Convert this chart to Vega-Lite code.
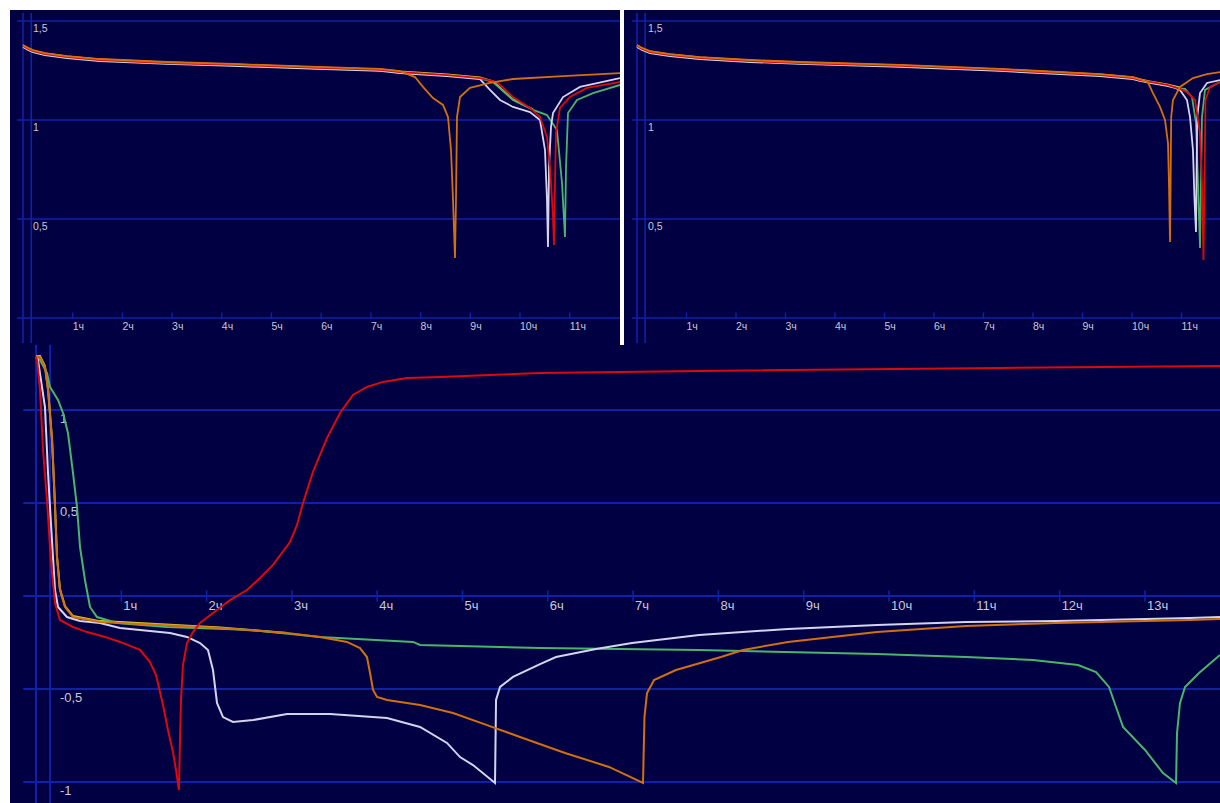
{
  "$schema": "https://vega.github.io/schema/vega-lite/v6.json",
  "background": "#ffffff",
  "padding": {"left": 10, "top": 10, "right": 0, "bottom": 0},
  "config": {
    "view": {"stroke": null, "fill": "#000042"},
    "text": {"font": "Liberation Sans", "color": "#c8c8dc"}
  },
  "datasets": {
    "hours": [
      {"t": 1, "label": "1ч"}, {"t": 2, "label": "2ч"}, {"t": 3, "label": "3ч"}, {"t": 4, "label": "4ч"},
      {"t": 5, "label": "5ч"}, {"t": 6, "label": "6ч"}, {"t": 7, "label": "7ч"}, {"t": 8, "label": "8ч"},
      {"t": 9, "label": "9ч"}, {"t": 10, "label": "10ч"}, {"t": 11, "label": "11ч"}, {"t": 12, "label": "12ч"},
      {"t": 13, "label": "13ч"}
    ],
    "top_levels": [
      {"v": 0, "label": ""}, {"v": 0.5, "label": "0,5"}, {"v": 1, "label": "1"}, {"v": 1.5, "label": "1,5"}
    ],
    "bottom_levels": [
      {"v": 1, "label": "1"}, {"v": 0.5, "label": "0,5"}, {"v": 0, "label": ""}, {"v": -0.5, "label": "-0,5"}, {"v": -1, "label": "-1"}
    ],
    "marks_t": [{"t": 0}, {"t": 0.165}],
    "tl": [
      {"s": "y", "t": 0, "v": 1.377}, {"s": "y", "t": 0.101, "v": 1.362}, {"s": "y", "t": 0.201, "v": 1.351}, {"s": "y", "t": 0.443, "v": 1.336},
      {"s": "y", "t": 0.885, "v": 1.321}, {"s": "y", "t": 1.549, "v": 1.306}, {"s": "y", "t": 2.897, "v": 1.291}, {"s": "y", "t": 4.225, "v": 1.281},
      {"s": "y", "t": 5.915, "v": 1.266}, {"s": "y", "t": 7.183, "v": 1.256}, {"s": "y", "t": 7.586, "v": 1.245}, {"s": "y", "t": 8.531, "v": 1.230},
      {"s": "y", "t": 9.195, "v": 1.215}, {"s": "y", "t": 9.457, "v": 1.195}, {"s": "y", "t": 9.859, "v": 1.104}, {"s": "y", "t": 10.262, "v": 1.054},

      {"s": "g", "t": 0, "v": 1.372}, {"s": "g", "t": 0.101, "v": 1.357}, {"s": "g", "t": 0.201, "v": 1.346}, {"s": "g", "t": 0.443, "v": 1.331},
      {"s": "g", "t": 0.885, "v": 1.316}, {"s": "g", "t": 1.549, "v": 1.301}, {"s": "g", "t": 2.897, "v": 1.286}, {"s": "g", "t": 4.225, "v": 1.276},
      {"s": "g", "t": 5.915, "v": 1.261}, {"s": "g", "t": 7.183, "v": 1.251}, {"s": "g", "t": 7.586, "v": 1.240}, {"s": "g", "t": 8.531, "v": 1.225},
      {"s": "g", "t": 9.195, "v": 1.210}, {"s": "g", "t": 9.457, "v": 1.192}, {"s": "g", "t": 9.859, "v": 1.101}, {"s": "g", "t": 10.262, "v": 1.051},
      {"s": "g", "t": 10.543, "v": 1.025}, {"s": "g", "t": 10.744, "v": 0.949}, {"s": "g", "t": 10.845, "v": 0.682}, {"s": "g", "t": 10.905, "v": 0.409},
      {"s": "g", "t": 10.926, "v": 0.763}, {"s": "g", "t": 10.966, "v": 1.035}, {"s": "g", "t": 11.147, "v": 1.101}, {"s": "g", "t": 11.469, "v": 1.136},
      {"s": "g", "t": 12.012, "v": 1.177},

      {"s": "w", "t": 0, "v": 1.369}, {"s": "w", "t": 0.101, "v": 1.354}, {"s": "w", "t": 0.201, "v": 1.343}, {"s": "w", "t": 0.443, "v": 1.328},
      {"s": "w", "t": 0.885, "v": 1.313}, {"s": "w", "t": 1.549, "v": 1.298}, {"s": "w", "t": 2.897, "v": 1.283}, {"s": "w", "t": 4.225, "v": 1.273},
      {"s": "w", "t": 5.915, "v": 1.258}, {"s": "w", "t": 7.183, "v": 1.248}, {"s": "w", "t": 7.586, "v": 1.237}, {"s": "w", "t": 8.531, "v": 1.222},
      {"s": "w", "t": 9.195, "v": 1.207}, {"s": "w", "t": 9.396, "v": 1.152}, {"s": "w", "t": 9.598, "v": 1.101}, {"s": "w", "t": 9.859, "v": 1.066},
      {"s": "w", "t": 10.201, "v": 1.040}, {"s": "w", "t": 10.402, "v": 1.000}, {"s": "w", "t": 10.503, "v": 0.848}, {"s": "w", "t": 10.543, "v": 0.596},
      {"s": "w", "t": 10.563, "v": 0.359}, {"s": "w", "t": 10.584, "v": 0.763}, {"s": "w", "t": 10.624, "v": 0.965}, {"s": "w", "t": 10.664, "v": 1.035},
      {"s": "w", "t": 10.865, "v": 1.116}, {"s": "w", "t": 11.207, "v": 1.167}, {"s": "w", "t": 12.012, "v": 1.212},

      {"s": "r", "t": 0, "v": 1.374}, {"s": "r", "t": 0.101, "v": 1.359}, {"s": "r", "t": 0.201, "v": 1.348}, {"s": "r", "t": 0.443, "v": 1.333},
      {"s": "r", "t": 0.885, "v": 1.318}, {"s": "r", "t": 1.549, "v": 1.303}, {"s": "r", "t": 2.897, "v": 1.288}, {"s": "r", "t": 4.225, "v": 1.278},
      {"s": "r", "t": 5.915, "v": 1.263}, {"s": "r", "t": 7.183, "v": 1.253}, {"s": "r", "t": 7.586, "v": 1.242}, {"s": "r", "t": 8.531, "v": 1.227},
      {"s": "r", "t": 9.195, "v": 1.212}, {"s": "r", "t": 9.537, "v": 1.192}, {"s": "r", "t": 9.859, "v": 1.116}, {"s": "r", "t": 10.201, "v": 1.061},
      {"s": "r", "t": 10.402, "v": 1.015}, {"s": "r", "t": 10.543, "v": 0.914}, {"s": "r", "t": 10.604, "v": 0.763}, {"s": "r", "t": 10.664, "v": 0.510},
      {"s": "r", "t": 10.684, "v": 0.369}, {"s": "r", "t": 10.704, "v": 0.682}, {"s": "r", "t": 10.724, "v": 0.934}, {"s": "r", "t": 10.805, "v": 1.061},
      {"s": "r", "t": 11.006, "v": 1.116}, {"s": "r", "t": 11.348, "v": 1.162}, {"s": "r", "t": 12.012, "v": 1.192},

      {"s": "o", "t": 0, "v": 1.379}, {"s": "o", "t": 0.101, "v": 1.364}, {"s": "o", "t": 0.201, "v": 1.353}, {"s": "o", "t": 0.443, "v": 1.338},
      {"s": "o", "t": 0.885, "v": 1.323}, {"s": "o", "t": 1.549, "v": 1.308}, {"s": "o", "t": 2.897, "v": 1.293}, {"s": "o", "t": 4.225, "v": 1.283},
      {"s": "o", "t": 5.915, "v": 1.268}, {"s": "o", "t": 7.183, "v": 1.258}, {"s": "o", "t": 7.586, "v": 1.247}, {"s": "o", "t": 7.887, "v": 1.217},
      {"s": "o", "t": 8.048, "v": 1.167}, {"s": "o", "t": 8.249, "v": 1.111}, {"s": "o", "t": 8.451, "v": 1.076}, {"s": "o", "t": 8.551, "v": 1.015},
      {"s": "o", "t": 8.612, "v": 0.848}, {"s": "o", "t": 8.652, "v": 0.596}, {"s": "o", "t": 8.692, "v": 0.303}, {"s": "o", "t": 8.712, "v": 0.596},
      {"s": "o", "t": 8.732, "v": 1.015}, {"s": "o", "t": 8.793, "v": 1.116}, {"s": "o", "t": 8.994, "v": 1.162}, {"s": "o", "t": 9.396, "v": 1.187},
      {"s": "o", "t": 9.859, "v": 1.207}, {"s": "o", "t": 10.865, "v": 1.222}, {"s": "o", "t": 12.012, "v": 1.237}
    ],
    "tr": [
      {"s": "y", "t": 0, "v": 1.377}, {"s": "y", "t": 0.101, "v": 1.362}, {"s": "y", "t": 0.263, "v": 1.346}, {"s": "y", "t": 0.667, "v": 1.331},
      {"s": "y", "t": 1.273, "v": 1.316}, {"s": "y", "t": 2.283, "v": 1.301}, {"s": "y", "t": 3.293, "v": 1.291}, {"s": "y", "t": 5.313, "v": 1.276},
      {"s": "y", "t": 7.333, "v": 1.256}, {"s": "y", "t": 9.354, "v": 1.230}, {"s": "y", "t": 10.020, "v": 1.215}, {"s": "y", "t": 10.162, "v": 1.205},
      {"s": "y", "t": 10.364, "v": 1.195}, {"s": "y", "t": 10.707, "v": 1.180}, {"s": "y", "t": 10.970, "v": 1.165},

      {"s": "g", "t": 0, "v": 1.372}, {"s": "g", "t": 0.101, "v": 1.357}, {"s": "g", "t": 0.263, "v": 1.341}, {"s": "g", "t": 0.667, "v": 1.326},
      {"s": "g", "t": 1.273, "v": 1.311}, {"s": "g", "t": 2.283, "v": 1.296}, {"s": "g", "t": 3.293, "v": 1.286}, {"s": "g", "t": 5.313, "v": 1.271},
      {"s": "g", "t": 7.333, "v": 1.251}, {"s": "g", "t": 9.354, "v": 1.225}, {"s": "g", "t": 10.020, "v": 1.210}, {"s": "g", "t": 10.162, "v": 1.200},
      {"s": "g", "t": 10.364, "v": 1.190}, {"s": "g", "t": 10.707, "v": 1.175}, {"s": "g", "t": 10.970, "v": 1.160}, {"s": "g", "t": 11.071, "v": 1.157},
      {"s": "g", "t": 11.212, "v": 1.116}, {"s": "g", "t": 11.293, "v": 0.985}, {"s": "g", "t": 11.333, "v": 0.682}, {"s": "g", "t": 11.374, "v": 0.354},
      {"s": "g", "t": 11.394, "v": 0.682}, {"s": "g", "t": 11.414, "v": 1.015}, {"s": "g", "t": 11.475, "v": 1.152}, {"s": "g", "t": 11.778, "v": 1.192},

      {"s": "w", "t": 0, "v": 1.369}, {"s": "w", "t": 0.101, "v": 1.354}, {"s": "w", "t": 0.263, "v": 1.338}, {"s": "w", "t": 0.667, "v": 1.323},
      {"s": "w", "t": 1.273, "v": 1.308}, {"s": "w", "t": 2.283, "v": 1.293}, {"s": "w", "t": 3.293, "v": 1.283}, {"s": "w", "t": 5.313, "v": 1.268},
      {"s": "w", "t": 7.333, "v": 1.248}, {"s": "w", "t": 9.354, "v": 1.222}, {"s": "w", "t": 10.020, "v": 1.207}, {"s": "w", "t": 10.162, "v": 1.197},
      {"s": "w", "t": 10.364, "v": 1.187}, {"s": "w", "t": 10.707, "v": 1.172}, {"s": "w", "t": 10.869, "v": 1.162}, {"s": "w", "t": 10.970, "v": 1.152},
      {"s": "w", "t": 11.111, "v": 1.101}, {"s": "w", "t": 11.172, "v": 1.015}, {"s": "w", "t": 11.232, "v": 0.848}, {"s": "w", "t": 11.263, "v": 0.596},
      {"s": "w", "t": 11.293, "v": 0.434}, {"s": "w", "t": 11.303, "v": 0.682}, {"s": "w", "t": 11.317, "v": 1.015}, {"s": "w", "t": 11.374, "v": 1.136},
      {"s": "w", "t": 11.515, "v": 1.187}, {"s": "w", "t": 11.778, "v": 1.202},

      {"s": "r", "t": 0, "v": 1.374}, {"s": "r", "t": 0.101, "v": 1.359}, {"s": "r", "t": 0.263, "v": 1.343}, {"s": "r", "t": 0.667, "v": 1.328},
      {"s": "r", "t": 1.273, "v": 1.313}, {"s": "r", "t": 2.283, "v": 1.298}, {"s": "r", "t": 3.293, "v": 1.288}, {"s": "r", "t": 5.313, "v": 1.273},
      {"s": "r", "t": 7.333, "v": 1.253}, {"s": "r", "t": 9.354, "v": 1.227}, {"s": "r", "t": 10.020, "v": 1.212}, {"s": "r", "t": 10.162, "v": 1.202},
      {"s": "r", "t": 10.364, "v": 1.192}, {"s": "r", "t": 10.707, "v": 1.177}, {"s": "r", "t": 10.970, "v": 1.157}, {"s": "r", "t": 11.111, "v": 1.141},
      {"s": "r", "t": 11.273, "v": 1.101}, {"s": "r", "t": 11.374, "v": 0.934}, {"s": "r", "t": 11.414, "v": 0.682}, {"s": "r", "t": 11.444, "v": 0.293},
      {"s": "r", "t": 11.465, "v": 0.682}, {"s": "r", "t": 11.485, "v": 1.101}, {"s": "r", "t": 11.576, "v": 1.167}, {"s": "r", "t": 11.778, "v": 1.192},

      {"s": "o", "t": 0, "v": 1.379}, {"s": "o", "t": 0.101, "v": 1.364}, {"s": "o", "t": 0.263, "v": 1.348}, {"s": "o", "t": 0.667, "v": 1.333},
      {"s": "o", "t": 1.273, "v": 1.318}, {"s": "o", "t": 2.283, "v": 1.303}, {"s": "o", "t": 3.293, "v": 1.293}, {"s": "o", "t": 5.313, "v": 1.278},
      {"s": "o", "t": 7.333, "v": 1.258}, {"s": "o", "t": 9.354, "v": 1.232}, {"s": "o", "t": 10.020, "v": 1.217}, {"s": "o", "t": 10.162, "v": 1.207},
      {"s": "o", "t": 10.323, "v": 1.190}, {"s": "o", "t": 10.424, "v": 1.136}, {"s": "o", "t": 10.566, "v": 1.066}, {"s": "o", "t": 10.667, "v": 1.000},
      {"s": "o", "t": 10.727, "v": 0.884}, {"s": "o", "t": 10.747, "v": 0.682}, {"s": "o", "t": 10.768, "v": 0.384}, {"s": "o", "t": 10.780, "v": 0.682},
      {"s": "o", "t": 10.792, "v": 1.015}, {"s": "o", "t": 10.828, "v": 1.101}, {"s": "o", "t": 10.970, "v": 1.167}, {"s": "o", "t": 11.232, "v": 1.212},
      {"s": "o", "t": 11.515, "v": 1.232}, {"s": "o", "t": 11.778, "v": 1.242}
    ],
    "bt": [
      {"s": "y", "t": 0, "v": 1.29}, {"s": "y", "t": 0.047, "v": 1.29}, {"s": "y", "t": 0.105, "v": 1.236}, {"s": "y", "t": 0.141, "v": 1.113},
      {"s": "y", "t": 0.188, "v": 0.844}, {"s": "y", "t": 0.223, "v": 0.483}, {"s": "y", "t": 0.246, "v": 0.215}, {"s": "y", "t": 0.281, "v": 0.037},
      {"s": "y", "t": 0.34, "v": -0.054}, {"s": "y", "t": 0.434, "v": -0.108}, {"s": "y", "t": 0.75, "v": -0.135}, {"s": "y", "t": 0.985, "v": -0.14},
      {"s": "y", "t": 2.157, "v": -0.169}, {"s": "y", "t": 2.943, "v": -0.199},

      {"s": "g", "t": 0, "v": 1.285}, {"s": "g", "t": 0.047, "v": 1.269}, {"s": "g", "t": 0.129, "v": 1.199}, {"s": "g", "t": 0.164, "v": 1.124},
      {"s": "g", "t": 0.258, "v": 1.054}, {"s": "g", "t": 0.317, "v": 0.984}, {"s": "g", "t": 0.375, "v": 0.876}, {"s": "g", "t": 0.434, "v": 0.661},
      {"s": "g", "t": 0.481, "v": 0.478}, {"s": "g", "t": 0.516, "v": 0.263}, {"s": "g", "t": 0.574, "v": 0.086}, {"s": "g", "t": 0.633, "v": -0.059},
      {"s": "g", "t": 0.715, "v": -0.113}, {"s": "g", "t": 0.95, "v": -0.145}, {"s": "g", "t": 1.536, "v": -0.167}, {"s": "g", "t": 2.544, "v": -0.183},
      {"s": "g", "t": 3.329, "v": -0.22}, {"s": "g", "t": 4.42, "v": -0.247}, {"s": "g", "t": 4.502, "v": -0.263}, {"s": "g", "t": 5.909, "v": -0.28},
      {"s": "g", "t": 7.773, "v": -0.29}, {"s": "g", "t": 9.859, "v": -0.312}, {"s": "g", "t": 10.903, "v": -0.328}, {"s": "g", "t": 11.688, "v": -0.344},
      {"s": "g", "t": 12.216, "v": -0.371}, {"s": "g", "t": 12.427, "v": -0.409}, {"s": "g", "t": 12.579, "v": -0.489}, {"s": "g", "t": 12.661, "v": -0.597},
      {"s": "g", "t": 12.743, "v": -0.704}, {"s": "g", "t": 13.001, "v": -0.828}, {"s": "g", "t": 13.212, "v": -0.952}, {"s": "g", "t": 13.365, "v": -1.005},
      {"s": "g", "t": 13.376, "v": -0.737}, {"s": "g", "t": 13.411, "v": -0.575}, {"s": "g", "t": 13.47, "v": -0.489}, {"s": "g", "t": 13.634, "v": -0.414},
      {"s": "g", "t": 13.88, "v": -0.317},

      {"s": "w", "t": 0, "v": 1.285}, {"s": "w", "t": 0.023, "v": 1.269}, {"s": "w", "t": 0.105, "v": 1.016}, {"s": "w", "t": 0.141, "v": 0.661},
      {"s": "w", "t": 0.164, "v": 0.478}, {"s": "w", "t": 0.199, "v": 0.21}, {"s": "w", "t": 0.223, "v": 0.032}, {"s": "w", "t": 0.258, "v": -0.059},
      {"s": "w", "t": 0.363, "v": -0.113}, {"s": "w", "t": 0.516, "v": -0.134}, {"s": "w", "t": 0.75, "v": -0.145}, {"s": "w", "t": 0.985, "v": -0.172},
      {"s": "w", "t": 1.571, "v": -0.199}, {"s": "w", "t": 1.77, "v": -0.22}, {"s": "w", "t": 1.923, "v": -0.253}, {"s": "w", "t": 2.016, "v": -0.29},
      {"s": "w", "t": 2.075, "v": -0.398}, {"s": "w", "t": 2.122, "v": -0.575}, {"s": "w", "t": 2.192, "v": -0.651}, {"s": "w", "t": 2.309, "v": -0.677},
      {"s": "w", "t": 2.544, "v": -0.667}, {"s": "w", "t": 2.943, "v": -0.634}, {"s": "w", "t": 3.447, "v": -0.634}, {"s": "w", "t": 4.115, "v": -0.656},
      {"s": "w", "t": 4.502, "v": -0.704}, {"s": "w", "t": 4.818, "v": -0.79}, {"s": "w", "t": 4.971, "v": -0.866}, {"s": "w", "t": 5.123, "v": -0.909},
      {"s": "w", "t": 5.381, "v": -1.005}, {"s": "w", "t": 5.393, "v": -0.559}, {"s": "w", "t": 5.44, "v": -0.489}, {"s": "w", "t": 5.592, "v": -0.435},
      {"s": "w", "t": 5.909, "v": -0.366}, {"s": "w", "t": 6.096, "v": -0.328}, {"s": "w", "t": 6.565, "v": -0.285}, {"s": "w", "t": 6.987, "v": -0.253},
      {"s": "w", "t": 7.773, "v": -0.21}, {"s": "w", "t": 8.816, "v": -0.177}, {"s": "w", "t": 9.859, "v": -0.156}, {"s": "w", "t": 10.903, "v": -0.14},
      {"s": "w", "t": 11.958, "v": -0.134}, {"s": "w", "t": 13.529, "v": -0.118}, {"s": "w", "t": 13.88, "v": -0.113},

      {"s": "o", "t": 0, "v": 1.29}, {"s": "o", "t": 0.047, "v": 1.285}, {"s": "o", "t": 0.105, "v": 1.231}, {"s": "o", "t": 0.141, "v": 1.108},
      {"s": "o", "t": 0.188, "v": 0.839}, {"s": "o", "t": 0.223, "v": 0.478}, {"s": "o", "t": 0.246, "v": 0.21}, {"s": "o", "t": 0.281, "v": 0.032},
      {"s": "o", "t": 0.34, "v": -0.059}, {"s": "o", "t": 0.434, "v": -0.113}, {"s": "o", "t": 0.75, "v": -0.14}, {"s": "o", "t": 0.985, "v": -0.145},
      {"s": "o", "t": 2.157, "v": -0.172}, {"s": "o", "t": 2.943, "v": -0.199}, {"s": "o", "t": 3.329, "v": -0.22}, {"s": "o", "t": 3.646, "v": -0.247},
      {"s": "o", "t": 3.798, "v": -0.28}, {"s": "o", "t": 3.88, "v": -0.328}, {"s": "o", "t": 3.916, "v": -0.414}, {"s": "o", "t": 3.951, "v": -0.505},
      {"s": "o", "t": 3.998, "v": -0.543}, {"s": "o", "t": 4.115, "v": -0.559}, {"s": "o", "t": 4.502, "v": -0.586}, {"s": "o", "t": 4.889, "v": -0.629},
      {"s": "o", "t": 5.287, "v": -0.694}, {"s": "o", "t": 5.674, "v": -0.758}, {"s": "o", "t": 6.202, "v": -0.844}, {"s": "o", "t": 6.717, "v": -0.919},
      {"s": "o", "t": 7.116, "v": -1.005}, {"s": "o", "t": 7.133, "v": -0.651}, {"s": "o", "t": 7.163, "v": -0.522}, {"s": "o", "t": 7.245, "v": -0.452},
      {"s": "o", "t": 7.503, "v": -0.398}, {"s": "o", "t": 8.03, "v": -0.328}, {"s": "o", "t": 8.288, "v": -0.29}, {"s": "o", "t": 8.816, "v": -0.247},
      {"s": "o", "t": 9.859, "v": -0.194}, {"s": "o", "t": 10.903, "v": -0.161}, {"s": "o", "t": 11.958, "v": -0.145}, {"s": "o", "t": 13.529, "v": -0.129},
      {"s": "o", "t": 13.88, "v": -0.124},

      {"s": "r", "t": 0, "v": 1.285}, {"s": "r", "t": 0.012, "v": 1.269}, {"s": "r", "t": 0.047, "v": 1.108}, {"s": "r", "t": 0.082, "v": 0.785},
      {"s": "r", "t": 0.129, "v": 0.516}, {"s": "r", "t": 0.164, "v": 0.263}, {"s": "r", "t": 0.188, "v": 0.124}, {"s": "r", "t": 0.223, "v": -0.038},
      {"s": "r", "t": 0.281, "v": -0.129}, {"s": "r", "t": 0.434, "v": -0.167}, {"s": "r", "t": 0.598, "v": -0.194}, {"s": "r", "t": 0.809, "v": -0.22},
      {"s": "r", "t": 0.985, "v": -0.247}, {"s": "r", "t": 1.219, "v": -0.29}, {"s": "r", "t": 1.336, "v": -0.355}, {"s": "r", "t": 1.407, "v": -0.425},
      {"s": "r", "t": 1.489, "v": -0.586}, {"s": "r", "t": 1.547, "v": -0.72}, {"s": "r", "t": 1.606, "v": -0.839}, {"s": "r", "t": 1.641, "v": -0.935},
      {"s": "r", "t": 1.676, "v": -1.043}, {"s": "r", "t": 1.688, "v": -0.774}, {"s": "r", "t": 1.7, "v": -0.559}, {"s": "r", "t": 1.723, "v": -0.371},
      {"s": "r", "t": 1.77, "v": -0.253}, {"s": "r", "t": 1.841, "v": -0.194}, {"s": "r", "t": 1.923, "v": -0.145}, {"s": "r", "t": 2.122, "v": -0.075},
      {"s": "r", "t": 2.274, "v": -0.022}, {"s": "r", "t": 2.474, "v": 0.032}, {"s": "r", "t": 2.626, "v": 0.097}, {"s": "r", "t": 2.778, "v": 0.167},
      {"s": "r", "t": 2.978, "v": 0.29}, {"s": "r", "t": 3.06, "v": 0.382}, {"s": "r", "t": 3.13, "v": 0.5}, {"s": "r", "t": 3.247, "v": 0.667},
      {"s": "r", "t": 3.411, "v": 0.849}, {"s": "r", "t": 3.564, "v": 0.984}, {"s": "r", "t": 3.716, "v": 1.081}, {"s": "r", "t": 3.88, "v": 1.124},
      {"s": "r", "t": 4.068, "v": 1.151}, {"s": "r", "t": 4.349, "v": 1.172}, {"s": "r", "t": 4.736, "v": 1.177}, {"s": "r", "t": 5.322, "v": 1.188},
      {"s": "r", "t": 5.909, "v": 1.199}, {"s": "r", "t": 7.784, "v": 1.21}, {"s": "r", "t": 11.301, "v": 1.226}, {"s": "r", "t": 13.88, "v": 1.237}
    ]
  },
  "vconcat": [
    {
      "hconcat": [
        {
          "width": 610,
          "height": 335,
          "layer": [
            {
              "data": {"name": "top_levels"},
              "mark": {"type": "rule", "color": "#1020a8", "strokeWidth": 1.6, "clip": true},
              "encoding": {
                "x": {"datum": -0.12, "type": "quantitative", "scale": {"domain": [-0.2616, 12.012], "nice": false, "zero": false}, "axis": null},
                "x2": {"datum": 12.012},
                "y": {"field": "v", "type": "quantitative", "scale": {"domain": [-0.1364, 1.5556], "nice": false, "zero": false}, "axis": null}
              }
            },
            {
              "data": {"name": "marks_t"},
              "mark": {"type": "rule", "color": "#1020a8", "strokeWidth": 1.6, "clip": true},
              "encoding": {
                "x": {"field": "t", "type": "quantitative", "scale": {"domain": [-0.2616, 12.012], "nice": false, "zero": false}, "axis": null},
                "y": {"datum": -0.126, "type": "quantitative", "scale": {"domain": [-0.1364, 1.5556], "nice": false, "zero": false}, "axis": null},
                "y2": {"datum": 1.54}
              }
            },
            {
              "data": {"name": "hours"},
              "transform": [{"filter": "datum.t <= 11"}],
              "mark": {"type": "rule", "color": "#1020a8", "strokeWidth": 1.4, "clip": true},
              "encoding": {
                "x": {"field": "t", "type": "quantitative", "scale": {"domain": [-0.2616, 12.012], "nice": false, "zero": false}, "axis": null},
                "y": {"datum": -0.004, "type": "quantitative", "scale": {"domain": [-0.1364, 1.5556], "nice": false, "zero": false}, "axis": null},
                "y2": {"datum": 0.028}
              }
            },
            {
              "data": {"name": "hours"},
              "transform": [{"filter": "datum.t <= 11"}],
              "mark": {"type": "text", "align": "left", "baseline": "middle", "dx": 0, "dy": 9, "fontSize": 10.5},
              "encoding": {
                "x": {"field": "t", "type": "quantitative", "scale": {"domain": [-0.2616, 12.012], "nice": false, "zero": false}, "axis": null},
                "y": {"datum": 0, "type": "quantitative", "scale": {"domain": [-0.1364, 1.5556], "nice": false, "zero": false}, "axis": null},
                "text": {"field": "label"}
              }
            },
            {
              "data": {"name": "top_levels"},
              "mark": {"type": "text", "align": "left", "baseline": "middle", "dy": 8, "fontSize": 10.5},
              "encoding": {
                "x": {"datum": 0.2, "type": "quantitative", "scale": {"domain": [-0.2616, 12.012], "nice": false, "zero": false}, "axis": null},
                "y": {"field": "v", "type": "quantitative", "scale": {"domain": [-0.1364, 1.5556], "nice": false, "zero": false}, "axis": null},
                "text": {"field": "label"}
              }
            },
            {
              "data": {"name": "tl"},
              "mark": {"type": "line", "strokeWidth": 1.8, "clip": true},
              "encoding": {
                "x": {"field": "t", "type": "quantitative", "scale": {"domain": [-0.2616, 12.012], "nice": false, "zero": false}, "axis": null},
                "y": {"field": "v", "type": "quantitative", "scale": {"domain": [-0.1364, 1.5556], "nice": false, "zero": false}, "axis": null},
                "color": {"field": "s", "type": "nominal", "scale": {"domain": ["y", "g", "w", "r", "o"], "range": ["#d8c838", "#4cb46a", "#d4d4ee", "#dc0a0a", "#d2700e"]}, "legend": null}
              }
            }
          ]
        },
        {
          "width": 596,
          "height": 335,
          "layer": [
            {
              "data": {"name": "top_levels"},
              "mark": {"type": "rule", "color": "#1020a8", "strokeWidth": 1.6, "clip": true},
              "encoding": {
                "x": {"datum": -0.1, "type": "quantitative", "scale": {"domain": [-0.2626, 11.778], "nice": false, "zero": false}, "axis": null},
                "x2": {"datum": 11.778},
                "y": {"field": "v", "type": "quantitative", "scale": {"domain": [-0.1364, 1.5556], "nice": false, "zero": false}, "axis": null}
              }
            },
            {
              "data": {"name": "marks_t"},
              "mark": {"type": "rule", "color": "#1020a8", "strokeWidth": 1.6, "clip": true},
              "encoding": {
                "x": {"field": "t", "type": "quantitative", "scale": {"domain": [-0.2626, 11.778], "nice": false, "zero": false}, "axis": null},
                "y": {"datum": -0.126, "type": "quantitative", "scale": {"domain": [-0.1364, 1.5556], "nice": false, "zero": false}, "axis": null},
                "y2": {"datum": 1.54}
              }
            },
            {
              "data": {"name": "hours"},
              "transform": [{"filter": "datum.t <= 11"}],
              "mark": {"type": "rule", "color": "#1020a8", "strokeWidth": 1.4, "clip": true},
              "encoding": {
                "x": {"field": "t", "type": "quantitative", "scale": {"domain": [-0.2626, 11.778], "nice": false, "zero": false}, "axis": null},
                "y": {"datum": -0.004, "type": "quantitative", "scale": {"domain": [-0.1364, 1.5556], "nice": false, "zero": false}, "axis": null},
                "y2": {"datum": 0.028}
              }
            },
            {
              "data": {"name": "hours"},
              "transform": [{"filter": "datum.t <= 11"}],
              "mark": {"type": "text", "align": "left", "baseline": "middle", "dx": 0, "dy": 9, "fontSize": 10.5},
              "encoding": {
                "x": {"field": "t", "type": "quantitative", "scale": {"domain": [-0.2626, 11.778], "nice": false, "zero": false}, "axis": null},
                "y": {"datum": 0, "type": "quantitative", "scale": {"domain": [-0.1364, 1.5556], "nice": false, "zero": false}, "axis": null},
                "text": {"field": "label"}
              }
            },
            {
              "data": {"name": "top_levels"},
              "mark": {"type": "text", "align": "left", "baseline": "middle", "dy": 8, "fontSize": 10.5},
              "encoding": {
                "x": {"datum": 0.22, "type": "quantitative", "scale": {"domain": [-0.2626, 11.778], "nice": false, "zero": false}, "axis": null},
                "y": {"field": "v", "type": "quantitative", "scale": {"domain": [-0.1364, 1.5556], "nice": false, "zero": false}, "axis": null},
                "text": {"field": "label"}
              }
            },
            {
              "data": {"name": "tr"},
              "mark": {"type": "line", "strokeWidth": 1.8, "clip": true},
              "encoding": {
                "x": {"field": "t", "type": "quantitative", "scale": {"domain": [-0.2626, 11.778], "nice": false, "zero": false}, "axis": null},
                "y": {"field": "v", "type": "quantitative", "scale": {"domain": [-0.1364, 1.5556], "nice": false, "zero": false}, "axis": null},
                "color": {"field": "s", "type": "nominal", "scale": {"domain": ["y", "g", "w", "r", "o"], "range": ["#d8c838", "#4cb46a", "#d4d4ee", "#dc0a0a", "#d2700e"]}, "legend": null}
              }
            }
          ]
        }
      ],
      "spacing": 4,
      "resolve": {"scale": {"x": "independent", "y": "independent"}}
    },
    {
      "width": 1210,
      "height": 458,
      "layer": [
        {
          "data": {"name": "bottom_levels"},
          "mark": {"type": "rule", "color": "#1020a8", "strokeWidth": 2, "clip": true},
          "encoding": {
            "x": {"datum": -0.15, "type": "quantitative", "scale": {"domain": [-0.3048, 13.88], "nice": false, "zero": false}, "axis": null},
            "x2": {"datum": 13.88},
            "y": {"field": "v", "type": "quantitative", "scale": {"domain": [-1.1129, 1.3495], "nice": false, "zero": false}, "axis": null}
          }
        },
        {
          "data": {"name": "marks_t"},
          "mark": {"type": "rule", "color": "#1020a8", "strokeWidth": 2, "clip": true},
          "encoding": {
            "x": {"field": "t", "type": "quantitative", "scale": {"domain": [-0.3048, 13.88], "nice": false, "zero": false}, "axis": null},
            "y": {"datum": -1.1129, "type": "quantitative", "scale": {"domain": [-1.1129, 1.3495], "nice": false, "zero": false}, "axis": null},
            "y2": {"datum": 1.3495}
          }
        },
        {
          "data": {"name": "hours"},
          "mark": {"type": "rule", "color": "#1020a8", "strokeWidth": 1.6, "clip": true},
          "encoding": {
            "x": {"field": "t", "type": "quantitative", "scale": {"domain": [-0.3048, 13.88], "nice": false, "zero": false}, "axis": null},
            "y": {"datum": -0.03, "type": "quantitative", "scale": {"domain": [-1.1129, 1.3495], "nice": false, "zero": false}, "axis": null},
            "y2": {"datum": 0.03}
          }
        },
        {
          "data": {"name": "hours"},
          "mark": {"type": "text", "align": "left", "baseline": "middle", "dx": 2, "dy": 10, "fontSize": 13},
          "encoding": {
            "x": {"field": "t", "type": "quantitative", "scale": {"domain": [-0.3048, 13.88], "nice": false, "zero": false}, "axis": null},
            "y": {"datum": 0, "type": "quantitative", "scale": {"domain": [-1.1129, 1.3495], "nice": false, "zero": false}, "axis": null},
            "text": {"field": "label"}
          }
        },
        {
          "data": {"name": "bottom_levels"},
          "mark": {"type": "text", "align": "left", "baseline": "middle", "dy": 9, "fontSize": 13},
          "encoding": {
            "x": {"datum": 0.28, "type": "quantitative", "scale": {"domain": [-0.3048, 13.88], "nice": false, "zero": false}, "axis": null},
            "y": {"field": "v", "type": "quantitative", "scale": {"domain": [-1.1129, 1.3495], "nice": false, "zero": false}, "axis": null},
            "text": {"field": "label"}
          }
        },
        {
          "data": {"name": "bt"},
          "mark": {"type": "line", "strokeWidth": 2, "clip": true},
          "encoding": {
            "x": {"field": "t", "type": "quantitative", "scale": {"domain": [-0.3048, 13.88], "nice": false, "zero": false}, "axis": null},
            "y": {"field": "v", "type": "quantitative", "scale": {"domain": [-1.1129, 1.3495], "nice": false, "zero": false}, "axis": null},
            "color": {"field": "s", "type": "nominal", "scale": {"domain": ["y", "g", "w", "o", "r"], "range": ["#d8c838", "#4cb46a", "#d4d4ee", "#d2700e", "#dc0a0a"]}, "legend": null}
          }
        }
      ]
    }
  ],
  "spacing": 0,
  "resolve": {"scale": {"x": "independent", "y": "independent", "color": "independent"}}
}
